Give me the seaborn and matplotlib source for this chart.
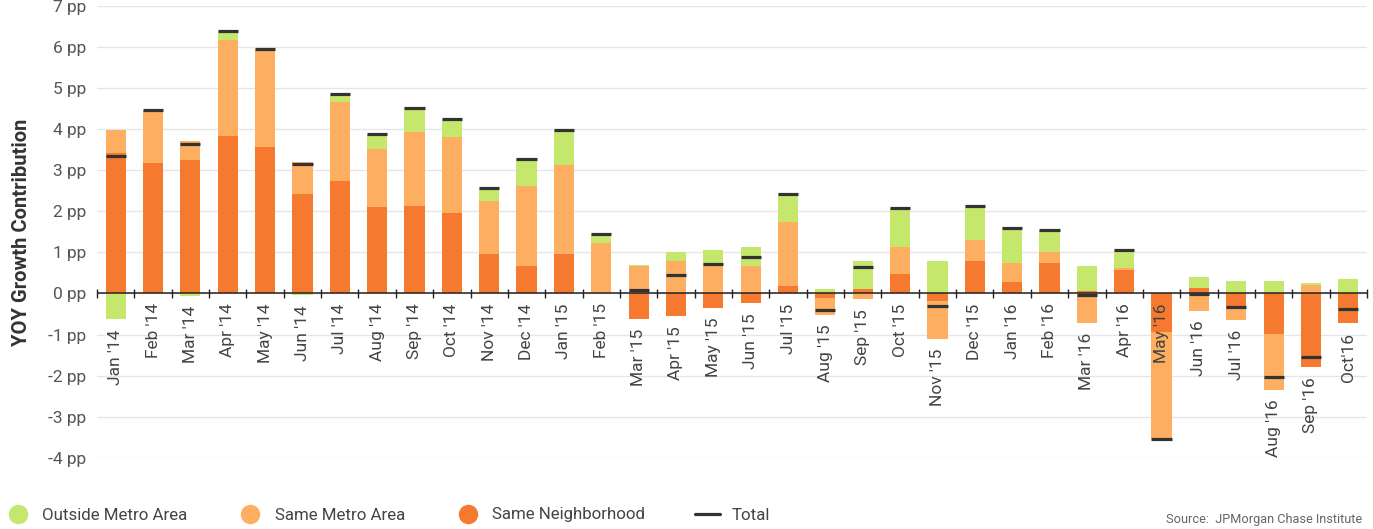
import numpy as np
import pandas as pd
import matplotlib
matplotlib.use("Agg")
import matplotlib.pyplot as plt
import matplotlib.transforms as mtransforms
from matplotlib import font_manager as fm
from matplotlib.lines import Line2D
import seaborn as sns

# ---------------- data ----------------
categories = ["Jan '14", "Feb '14", "Mar '14", "Apr '14", "May '14", "Jun '14", "Jul '14",
              "Aug '14", "Sep '14", "Oct '14", "Nov '14", "Dec '14", "Jan '15", "Feb '15",
              "Mar '15", "Apr '15", "May '15", "Jun '15", "Jul '15", "Aug '15", "Sep '15",
              "Oct '15", "Nov '15", "Dec '15", "Jan '16", "Feb '16", "Mar '16", "Apr '16",
              "May '16", "Jun '16", "Jul '16", "Aug '16", "Sep '16", "Oct'16"]

same_neighborhood = [3.42, 3.17, 3.25, 3.84, 3.57, 2.41, 2.73, 2.11, 2.14, 1.97,
                     0.95, 0.68, 0.95, 0.00, -0.62, -0.55, -0.35, -0.23, 0.19, -0.12,
                     0.11, 0.48, -0.18, 0.78, 0.29, 0.75, 0.05, 0.56, -0.94, 0.14,
                     -0.38, -0.98, -1.80, -0.72]
same_metro = [0.56, 1.26, 0.46, 2.34, 2.34, 0.80, 1.94, 1.41, 1.79, 1.84,
              1.29, 1.93, 2.18, 1.24, 0.68, 0.80, 0.72, 0.68, 1.54, -0.40,
              -0.13, 0.64, -0.93, 0.52, 0.46, 0.27, -0.72, 0.05, -2.61, -0.42,
              -0.27, -1.36, 0.21, 0.00]
outside_metro = [-0.63, 0.04, -0.06, 0.21, 0.05, -0.05, 0.19, 0.36, 0.59, 0.44,
                 0.33, 0.66, 0.85, 0.20, 0.02, 0.20, 0.35, 0.44, 0.68, 0.11,
                 0.67, 0.95, 0.80, 0.83, 0.84, 0.53, 0.63, 0.46, 0.00, 0.27,
                 0.31, 0.31, 0.05, 0.34]

series_names = ["Same Neighborhood", "Same Metro Area", "Outside Metro Area"]
series_values = [same_neighborhood, same_metro, outside_metro]
series_colors = ["#F57A30", "#FDAE61", "#C5E86C"]

legend_labels = ["Outside Metro Area", "Same Metro Area", "Same Neighborhood", "Total"]
legend_colors = ["#C5E86C", "#FDAE61", "#F57A30"]

labels_at_axis = {"May '16"}

# ---------------- fonts ----------------
def pick_font(cands):
    for f in cands:
        try:
            fm.findfont(fm.FontProperties(family=f), fallback_to_default=False)
            return f
        except Exception:
            pass
    return "DejaVu Sans"

sns.set_theme(style="white")
FONT = pick_font(["Liberation Sans Narrow", "Roboto", "Lato"])
plt.rcParams["font.family"] = [FONT, "DejaVu Sans"]

# ---------------- figure ----------------
fig = plt.figure(figsize=(13.73, 5.29), dpi=100)
ax = fig.add_axes([97 / 1373, (529 - 457.7) / 529, 1270 / 1373, 451.7 / 529])

n = len(categories)
pos_base = np.zeros(n)
neg_base = np.zeros(n)
bar_w = 0.54
for name, vals, col in zip(series_names, series_values, series_colors):
    v = np.asarray(vals, dtype=float)
    bottoms = np.where(v >= 0, pos_base, neg_base)
    df = pd.DataFrame({"cat": categories, "val": v})
    sns.barplot(data=df, x="cat", y="val", order=categories, color=col,
                saturation=1, width=bar_w, errorbar=None, bottom=bottoms,
                linewidth=0, ax=ax, zorder=3)
    pos_base = pos_base + np.where(v >= 0, v, 0)
    neg_base = neg_base + np.where(v < 0, v, 0)

totals = np.sum(series_values, axis=0)
xs = np.arange(n)
ax.hlines(totals, xs - bar_w / 2, xs + bar_w / 2, color="#333333", lw=2.3, zorder=6)

# zero line and category ticks
ax.axhline(0, color="#222222", lw=1.1, zorder=5)
ax.vlines(np.arange(n + 1) - 0.5, -0.1, 0.1, color="#222222", lw=1.0, zorder=5,
          clip_on=False)

ax.set_xlim(-0.5, n - 0.5)
ax.set_ylim(-4, 7)
yt = np.arange(-4, 8)
ax.set_yticks(yt)
ax.set_yticklabels([f"{t} pp" for t in yt], color="#555555", fontsize=12.5)
ax.tick_params(axis="y", length=0, pad=8)
ax.grid(axis="y", color="#e6e6e6", lw=1, zorder=0)
ax.grid(axis="x", visible=False)
ax.set_axisbelow(True)
for s in ax.spines.values():
    s.set_visible(False)
ax.set_xticks([])
ax.set_xlabel("")
ax.set_ylabel("YOY Growth Contribution", fontsize=14.5, fontweight="bold",
              color="#333333", labelpad=12)

# category labels placed below each bar
off = mtransforms.offset_copy(ax.transData, fig=fig, x=0, y=-10, units="dots")
for i, c in enumerate(categories):
    y0 = 0.0 if c in labels_at_axis else min(0.0, neg_base[i])
    ax.text(i, y0, c, rotation=90, ha="center", va="top", fontsize=12.5,
            color="#444444", transform=off, zorder=7)

# legend
handles = [Line2D([], [], marker="o", ls="none", markersize=13, markerfacecolor=col,
                  markeredgecolor=col, color=col)
           for col in legend_colors]
handles.append(Line2D([], [], color="#333333", lw=2.3))
leg = fig.legend(handles, legend_labels,
                 loc="center left", bbox_to_anchor=(0.004, 1 - 515 / 529), ncol=4,
                 frameon=False, fontsize=12.2, handlelength=1.5, handletextpad=0.68,
                 columnspacing=2.95, labelcolor="#444444", borderaxespad=0,
                 borderpad=0)

fig.text(1362 / 1373, 1 - 520 / 529, "Source:  JPMorgan Chase Institute", ha="right",
         va="center", fontsize=9.2, color="#666666")

fig.savefig("out.png", dpi=100)
